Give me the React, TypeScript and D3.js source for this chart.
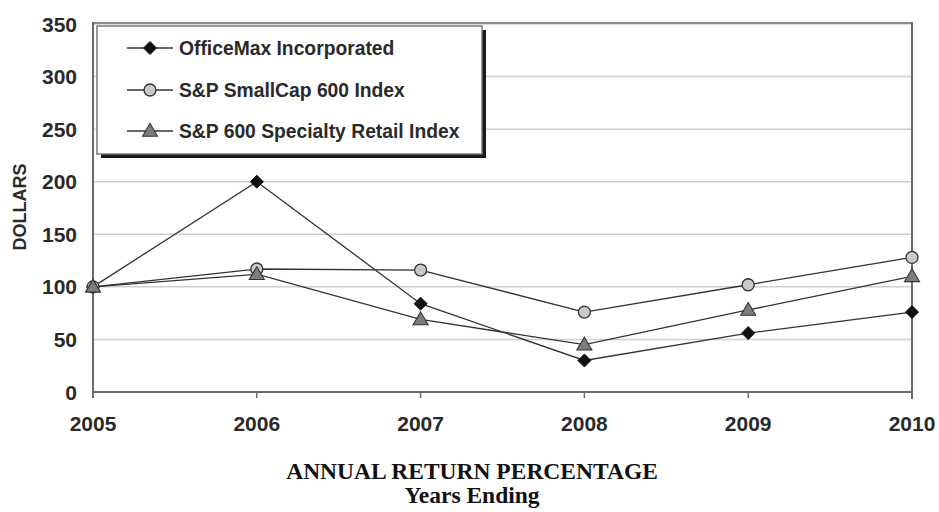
import React from 'react';
import * as d3 from 'd3';

// --- data ---
const years = [2005, 2006, 2007, 2008, 2009, 2010];
const officeMax = [100, 200, 84, 30, 56, 76];
const smallCap = [100, 117, 116, 76, 102, 128];
const specialtyRetail = [100, 112, 69, 45, 78, 110];
const yTicks = [0, 50, 100, 150, 200, 250, 300, 350];

const seriesNames = ['OfficeMax Incorporated', 'S&P SmallCap 600 Index', 'S&P 600 Specialty Retail Index'];
const seriesValues = [officeMax, smallCap, specialtyRetail];
const markerTypes = ['diamond', 'circle', 'triangle'];

const W = 939;
const H = 512;
const left = 93;
const right = 912;
const top = 24;
const bottom = 392;

const sans = '"Liberation Sans", Arial, sans-serif';
const serif = '"Liberation Serif", "Times New Roman", serif';

const Marker: React.FC<{ type: string; x: number; y: number }> = ({ type, x, y }) => {
    if (type === 'diamond') {
        const s = 6.5;
        return <path d={`M${x},${y - s}L${x + s},${y}L${x},${y + s}L${x - s},${y}Z`} fill="#111" stroke="#111" strokeWidth={1} />;
    }
    if (type === 'circle') {
        return <circle cx={x} cy={y} r={6} fill="#c9c9c9" stroke="#333" strokeWidth={1.3} />;
    }
    const s = 7.5;
    return <path d={`M${x},${y - s}L${x + s},${y + s * 0.7}L${x - s},${y + s * 0.7}Z`} fill="#7d7d7d" stroke="#333" strokeWidth={1.1} />;
};

export default function App() {
    const x = d3.scaleLinear().domain([2005, 2010]).range([left, right]);
    const y = d3.scaleLinear().domain([0, 350]).range([bottom, top]);
    const line = d3.line<number>().x((_, i) => x(years[i])).y(d => y(d));

    // legend box
    const lx = 97, ly = 26, lw = 385, lh = 128;
    const rowY = [48, 90, 131];

    return (
        <svg width={W} height={H} style={{ position: 'absolute', left: 0, top: 0, background: '#fff' }}>
            {/* gridlines */}
            {yTicks.filter(t => t > 0).map(t => (
                <line key={t} x1={left} x2={right} y1={y(t)} y2={y(t)} stroke="#cfcfcf" strokeWidth={1.5} />
            ))}
            {/* frame */}
            <line x1={left} x2={right} y1={top - 1} y2={top - 1} stroke="#8a8a8a" strokeWidth={2} />
            <line x1={right} x2={right} y1={top - 2} y2={bottom + 7} stroke="#6a6a6a" strokeWidth={2} />
            <line x1={left} x2={left} y1={top - 2} y2={bottom + 6} stroke="#6a6a6a" strokeWidth={2} />
            <line x1={left} x2={right} y1={bottom} y2={bottom} stroke="#6a6a6a" strokeWidth={2} />
            {years.map(yr => (
                <line key={yr} x1={x(yr)} x2={x(yr)} y1={bottom} y2={bottom + 6} stroke="#6a6a6a" strokeWidth={1.5} />
            ))}

            {/* y tick labels */}
            {yTicks.map(t => (
                <text key={t} x={77} y={y(t) + 7.5} textAnchor="end" fontFamily={sans} fontWeight="bold" fontSize={21} fill="#2a2a2a">{t}</text>
            ))}
            {/* x tick labels */}
            {years.map(yr => (
                <text key={yr} x={x(yr)} y={431} textAnchor="middle" fontFamily={sans} fontWeight="bold" fontSize={21} fill="#2a2a2a">{yr}</text>
            ))}
            <text transform={`translate(26,207) rotate(-90)`} textAnchor="middle" fontFamily={sans} fontWeight="bold" fontSize={18} fill="#2a2a2a">DOLLARS</text>

            {/* series */}
            {seriesValues.map((vals, si) => (
                <path key={si} d={line(vals) || ''} fill="none" stroke="#333" strokeWidth={1.3} />
            ))}
            {seriesValues.map((vals, si) => vals.map((v, i) => (
                <Marker key={`${si}-${i}`} type={markerTypes[si]} x={x(years[i])} y={y(v)} />
            )))}

            {/* legend */}
            <rect x={lx + 4} y={ly + 4} width={lw} height={lh} fill="#1a1a1a" />
            <rect x={lx} y={ly} width={lw} height={lh} fill="#fff" stroke="#7a7a7a" strokeWidth={1.5} />
            {seriesNames.map((name, i) => (
                <g key={name}>
                    <line x1={127} x2={173} y1={rowY[i]} y2={rowY[i]} stroke="#333" strokeWidth={1.3} />
                    <Marker type={markerTypes[i]} x={150} y={rowY[i]} />
                    <text x={179} y={rowY[i] + 7} fontFamily={sans} fontWeight="bold" fontSize={19.3} fill="#2a2a2a">{name}</text>
                </g>
            ))}

            {/* bottom titles */}
            <text x={472} y={479} textAnchor="middle" fontFamily={serif} fontWeight="bold" fontSize={23.5} fill="#111">ANNUAL RETURN PERCENTAGE</text>
            <text x={472} y={503} textAnchor="middle" fontFamily={serif} fontWeight="bold" fontSize={23.5} fill="#111">Years Ending</text>
        </svg>
    );
}
